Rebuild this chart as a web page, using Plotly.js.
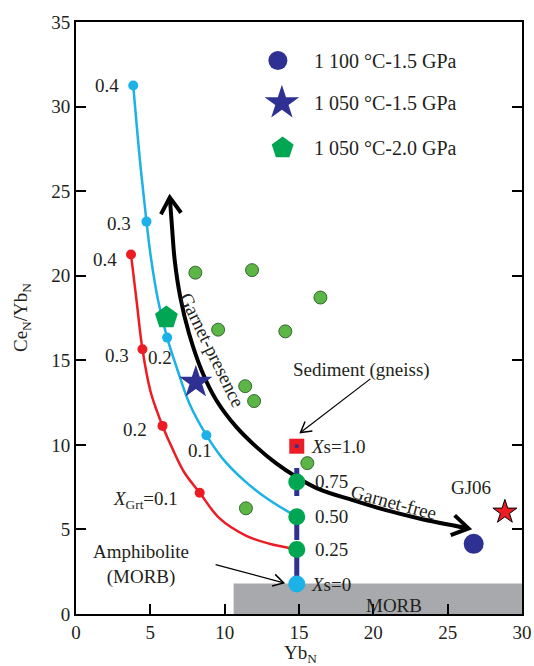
<!DOCTYPE html>
<html><head><meta charset="utf-8">
<script src="https://cdn.plot.ly/plotly-3.0.1.min.js"></script>
<style>html,body{margin:0;padding:0;background:#fff}#chart{width:534px;height:666px}</style>
</head><body><div id="chart"></div>
<script>
// ---------------- data ----------------
// X_Grt melting curve (cyan): path points; label '' = no marker
const cyanX = [3.85, 4.30, 4.74, 5.05, 5.52, 6.13, 6.80, 7.65, 8.77, 9.85, 11.30, 12.90, 14.85];
const cyanY = [31.25, 26.82, 23.20, 21.00, 18.55, 16.34, 14.50, 12.40, 10.57, 9.20, 7.90, 6.80, 5.75];
const cyanLabel = ['0.4', '', '0.3', '', '', '0.2', '', '', '0.1', '', '', '', ''];
// X_Grt melting curve (red)
const redX = [3.70, 4.07, 4.47, 5.00, 5.42, 5.82, 6.50, 7.30, 8.32, 9.66, 11.46, 13.02, 14.85];
const redY = [21.25, 18.55, 15.65, 13.20, 12.05, 11.12, 9.75, 8.35, 7.17, 5.65, 4.62, 4.15, 3.82];
const redLabel = ['0.4', '', '0.3', '', '', '0.2', '', '', '0.1', '', '', '', ''];
// mixing line amphibolite - sediment
const mixX = [14.85, 14.85, 14.85, 14.85, 14.85];
const mixY = [1.77, 3.82, 5.75, 7.81, 9.92];
const mixLabel = ['Xs=0', '0.25', '0.50', '0.75', 'Xs=1.0'];
// natural samples (green dots)
const sampleX = [8.03, 11.84, 16.44, 9.56, 14.08, 11.38, 11.98, 15.56, 11.43];
const sampleY = [20.18, 20.33, 18.71, 16.81, 16.71, 13.47, 12.59, 8.92, 6.25];
// experiments
const exp1100_15X = [26.75], exp1100_15Y = [4.15];
const exp1050_15X = [8.06], exp1050_15Y = [13.70];
const exp1050_20X = [6.08], exp1050_20Y = [17.53];
const gj06X = [28.85], gj06Y = [6.03];
// garnet-presence / garnet-free trend
const trendX = [6.31, 6.46, 6.64, 7.00, 7.60, 8.45, 9.44, 10.78, 12.13, 13.47, 14.81, 16.30, 18.61, 20.85, 23.09, 26.40];
const trendY = [24.63, 22.86, 20.91, 18.80, 16.60, 14.40, 12.64, 11.06, 9.88, 8.90, 8.11, 7.40, 6.73, 6.14, 5.65, 5.06];
// MORB field
const morbX = [10.6, 30];
const morbY = [0, 1.8];
// legend
const legendNames = ['1 100 °C-1.5 GPa', '1 050 °C-1.5 GPa', '1 050 °C-2.0 GPa'];
const xTicks = [0, 5, 10, 15, 20, 25, 30];
const yTicks = [0, 5, 10, 15, 20, 25, 30, 35];
const xTitle = 'Yb<sub>N</sub>';
const yTitle = 'Ce<sub>N</sub>/Yb<sub>N</sub>';

// ---------------- styles ----------------
const FONT = 'Liberation Serif, Times New Roman, serif';
const TXT = '#231f20';
const CYAN = '#1cb1e7', RED = '#ec1c24', NAVY = '#2e3192', GREEN = '#00a651', LGREEN = '#5cb646';
const W = 534, H = 666, M = {l: 76, r: 12, t: 21.5, b: 52};
const kx = (W - M.l - M.r) / 30, ky = (H - M.t - M.b) / 35;

function chevron(xt, yt, xf, yf, len, ang) {
  const dx = (xt - xf) * kx, dy = (yt - yf) * ky;
  const d = Math.hypot(dx, dy), ux = dx / d, uy = dy / d;
  const pts = [ang, -ang].map(a => {
    const c = Math.cos(a * Math.PI / 180), s = Math.sin(a * Math.PI / 180);
    const rx = ux * c - uy * s, ry = ux * s + uy * c;
    return [xt - rx * len / kx, yt - ry * len / ky];
  });
  return `M${pts[0][0]},${pts[0][1]} L${xt},${yt} L${pts[1][0]},${pts[1][1]}`;
}
const pick = (arr, lab) => arr.filter((v, i) => lab[i]);

const traces = [
  {x: cyanX, y: cyanY, mode: 'lines', line: {color: CYAN, width: 2.5, shape: 'spline', smoothing: 1}},
  {x: pick(cyanX, cyanLabel), y: pick(cyanY, cyanLabel), mode: 'markers', marker: {color: CYAN, size: 10}},
  {x: redX, y: redY, mode: 'lines', line: {color: RED, width: 2.5, shape: 'spline', smoothing: 1}},
  {x: pick(redX, redLabel), y: pick(redY, redLabel), mode: 'markers', marker: {color: RED, size: 10}},
  {x: trendX, y: trendY, mode: 'lines', line: {color: '#000', width: 4, shape: 'spline', smoothing: 1}},
  {x: [mixX[0], mixX[mixX.length - 1]], y: [mixY[0], mixY[mixY.length - 1]], mode: 'lines',
   line: {color: NAVY, width: 5, dash: '28px,16px'}},
  {x: sampleX, y: sampleY, mode: 'markers', marker: {color: LGREEN, size: 13, line: {color: '#1e4d1e', width: 0.8}}},
  {x: [mixX[4]], y: [mixY[4]], mode: 'markers', marker: {symbol: 'square', color: RED, size: 15}},
  {x: [mixX[4]], y: [mixY[4]], mode: 'markers', marker: {symbol: 'square', color: NAVY, size: 3.5}},
  {x: mixX.slice(1, 4), y: mixY.slice(1, 4), mode: 'markers', marker: {color: GREEN, size: 17}},
  {x: [mixX[0]], y: [mixY[0]], mode: 'markers', marker: {color: CYAN, size: 17}},
  {x: exp1050_20X, y: exp1050_20Y, mode: 'markers', marker: {symbol: 'pentagon', color: GREEN, size: 24}},
  {x: exp1050_15X, y: exp1050_15Y, mode: 'markers', marker: {symbol: 'star', color: NAVY, size: 25}},
  {x: exp1100_15X, y: exp1100_15Y, mode: 'markers', marker: {color: NAVY, size: 20}},
  {x: gj06X, y: gj06Y, mode: 'markers', marker: {symbol: 'star', color: RED, size: 18, line: {color: '#000', width: 1}}},
  // legend symbols
  {x: [13.58], y: [32.72], mode: 'markers', marker: {color: NAVY, size: 19}},
  {x: [13.85], y: [30.22], mode: 'markers', marker: {symbol: 'star', color: NAVY, size: 26}},
  {x: [13.9], y: [27.55], mode: 'markers', marker: {symbol: 'pentagon', color: GREEN, size: 23}}
];
traces.forEach(t => { t.showlegend = false; t.hoverinfo = 'skip'; t.type = 'scatter'; });

const ann = [];
const A = (o) => ann.push(Object.assign({showarrow: false, font: {family: FONT, size: 19, color: TXT}}, o));
const cyanOff = {'0.4': [-12, 0, 'right'], '0.3': [-13, -2, 'right'], '0.2': [-7, -20, 'center'], '0.1': [-6, -15, 'center']};
cyanLabel.forEach((l, i) => { if (l) A({x: cyanX[i], y: cyanY[i], text: l, xanchor: cyanOff[l][2], xshift: cyanOff[l][0], yshift: cyanOff[l][1]}); });
const redOff = {'0.4': [-12, -5], '0.3': [-11, -6], '0.2': [-14, -4], '0.1': [-20, -7]};
redLabel.forEach((l, i) => { if (l) A({x: redX[i], y: redY[i], text: l === '0.1' ? '<i>X</i><sub>Grt</sub>=0.1' : l, xanchor: 'right', xshift: redOff[l][0], yshift: redOff[l][1]}); });
mixLabel.forEach((l, i) => {
  const t = l.startsWith('Xs') ? '<i>X</i>s' + l.slice(2) : l;
  A({x: mixX[i], y: mixY[i], text: t, xanchor: 'left', xshift: l.startsWith('Xs') ? 12 : 16});
});
legendNames.forEach((n, i) => A({x: 15.9, y: [32.72, 30.22, 27.55][i], text: n, xanchor: 'left', font: {family: FONT, size: 20, color: TXT}}));
A({x: 19.2, y: 14.4, text: 'Sediment (gneiss)'});
A({x: 4.35, y: 2.95, text: 'Amphibolite<br>(MORB)'});
A({x: 26.6, y: 7.45, text: 'GJ06'});
A({x: 21.4, y: 0.5, text: 'MORB'});
A({x: 9.18, y: 15.6, text: 'Garnet-presence', textangle: 64});
A({x: 21.4, y: 6.6, text: 'Garnet-free', textangle: 15});
// axis titles
A({xref: 'paper', yref: 'paper', x: 0.503, y: -0.068, text: xTitle, xanchor: 'center', yanchor: 'middle'});
A({xref: 'paper', yref: 'paper', x: -0.121, y: 0.5, text: yTitle, textangle: -90, xanchor: 'center', yanchor: 'middle'});

const shapes = [
  {type: 'rect', xref: 'x', yref: 'y', x0: morbX[0], x1: morbX[1], y0: morbY[0], y1: morbY[1], fillcolor: '#a7a9ac', line: {width: 0}, layer: 'below'},
  {type: 'path', xref: 'x', yref: 'y', path: chevron(trendX[0], trendY[0], trendX[1], trendY[1], 19, 32), line: {color: '#000', width: 4}},
  {type: 'path', xref: 'x', yref: 'y', path: chevron(trendX[trendX.length - 1], trendY[trendY.length - 1], trendX[trendX.length - 2], trendY[trendY.length - 2], 19, 32), line: {color: '#000', width: 4}},
  {type: 'line', xref: 'x', yref: 'y', x0: 19.8, y0: 13.9, x1: 15.1, y1: 10.73, line: {color: '#000', width: 1.2}},
  {type: 'path', xref: 'x', yref: 'y', path: chevron(15.1, 10.73, 19.8, 13.9, 12, 30), line: {color: '#000', width: 1.5}},
  {type: 'line', xref: 'x', yref: 'y', x0: 9.39, y0: 2.92, x1: 13.97, y1: 1.84, line: {color: '#000', width: 1.2}},
  {type: 'path', xref: 'x', yref: 'y', path: chevron(13.97, 1.84, 9.39, 2.92, 12, 30), line: {color: '#000', width: 1.5}}
];

const axisBase = {showgrid: false, zeroline: false, showline: true, linecolor: '#000', linewidth: 2,
  ticks: 'inside', ticklen: 10, tickwidth: 2, tickcolor: '#000',
  tickfont: {family: FONT, size: 19, color: TXT}};
const layout = {
  width: W, height: H, margin: M, paper_bgcolor: '#fff', plot_bgcolor: '#fff', showlegend: false,
  xaxis: Object.assign({}, axisBase, {range: [0, 30], tickvals: xTicks, mirror: true}),
  yaxis: Object.assign({}, axisBase, {range: [0, 35], tickvals: yTicks, mirror: 'ticks'}),
  annotations: ann, shapes: shapes
};
Plotly.newPlot('chart', traces, layout, {staticPlot: true});
</script></body></html>
